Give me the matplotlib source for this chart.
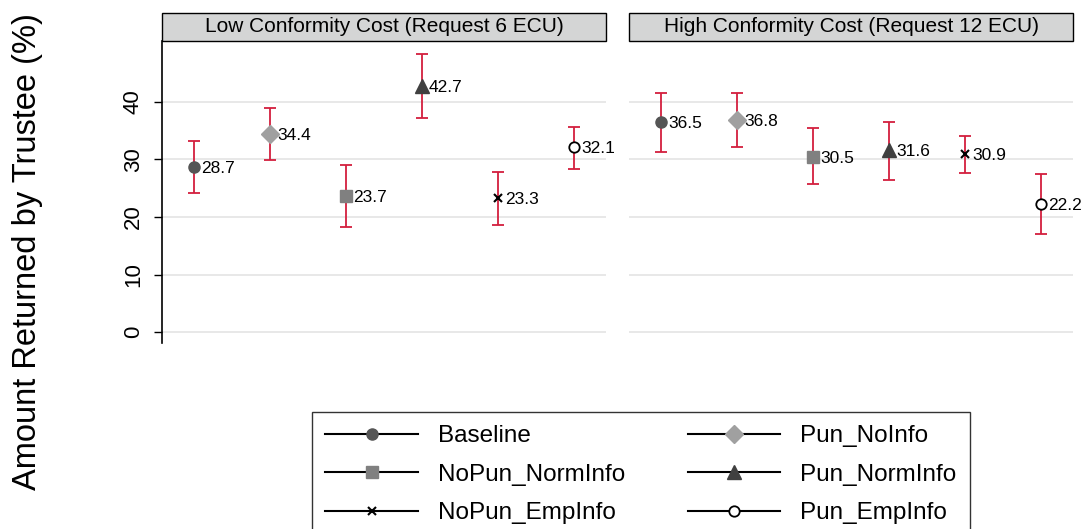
import matplotlib
matplotlib.use("Agg")
import matplotlib.pyplot as plt
from matplotlib.lines import Line2D
from matplotlib.patches import Rectangle

plt.rcParams["font.family"] = ["Liberation Sans", "DejaVu Sans"]

# data
panels = ["Low Conformity Cost (Request 6 ECU)", "High Conformity Cost (Request 12 ECU)"]
treatments = ["Baseline", "Pun_NoInfo", "NoPun_NormInfo", "Pun_NormInfo", "NoPun_EmpInfo", "Pun_EmpInfo"]
means_low = [28.7, 34.4, 23.7, 42.7, 23.3, 32.1]
lower_low = [24.1, 29.9, 18.3, 37.2, 18.6, 28.3]
upper_low = [33.2, 39.0, 29.0, 48.3, 27.9, 35.7]
means_high = [36.5, 36.8, 30.5, 31.6, 30.9, 22.2]
lower_high = [31.3, 32.1, 25.7, 26.5, 27.7, 17.0]
upper_high = [41.6, 41.5, 35.4, 36.6, 34.1, 27.4]
yticks = [0, 10, 20, 30, 40]

# marker styles per treatment
styles = {
    "Baseline": dict(marker="o", ms=8, mfc="#555555", mec="#555555"),
    "Pun_NoInfo": dict(marker="D", ms=9, mfc="#a0a0a0", mec="#a0a0a0"),
    "NoPun_NormInfo": dict(marker="s", ms=8.5, mfc="#808080", mec="#808080"),
    "Pun_NormInfo": dict(marker="^", ms=10, mfc="#404040", mec="#404040"),
    "NoPun_EmpInfo": dict(marker="x", ms=6, mfc="black", mec="black", mew=1.5),
    "Pun_EmpInfo": dict(marker="o", ms=7.5, mfc="white", mec="black", mew=1.3),
}
err_color = "#d31f3e"

fig = plt.figure(figsize=(10.83, 5.29), dpi=100)
W, H = 1083, 529
ax_bottom = 1 - 343 / H
ax_h = (343 - 41) / H
axes = [
    fig.add_axes([162 / W, ax_bottom, 444 / W, ax_h]),
    fig.add_axes([629 / W, ax_bottom, 444 / W, ax_h]),
]

data = [(means_low, lower_low, upper_low), (means_high, lower_high, upper_high)]
xs = list(range(1, len(treatments) + 1))

for ax, title, (m, lo, hi) in zip(axes, panels, data):
    ax.set_xlim(1 - 32 / 76, 6 + 32 / 76)
    ax.set_ylim(-1.9, 50.6)
    for y in yticks:
        ax.axhline(y, color="#e6e6e6", lw=1.3, zorder=0)
    for x, t, v, l, h in zip(xs, treatments, m, lo, hi):
        ax.errorbar(x, v, yerr=[[v - l], [h - v]], fmt="none", ecolor=err_color,
                    elinewidth=1.3, capsize=4, capthick=1.3, zorder=2)
        ax.plot(x, v, linestyle="none", zorder=3, **styles[t])
        ax.annotate(f"{v:.1f}", (x, v), xytext=(5, -1), textcoords="offset points",
                    ha="left", va="center", fontsize=12.5, zorder=4)
    for s in ["top", "right", "bottom"]:
        ax.spines[s].set_visible(False)
    ax.set_xticks([])
    # strip header
    strip_h = 28 / 302
    ax.add_patch(Rectangle((0, 1), 1, strip_h, transform=ax.transAxes,
                           facecolor="#d4d5d5", edgecolor="black", lw=1.0, clip_on=False))
    ax.text(0.5, 1 + strip_h / 2, title, transform=ax.transAxes, ha="center",
            va="center", fontsize=15)

axes[0].set_yticks(yticks)
axes[0].set_yticklabels([str(y) for y in yticks], rotation=90, va="center", fontsize=16)
axes[0].tick_params(axis="y", length=6, width=1, pad=7)
axes[0].spines["left"].set_linewidth(1.2)
axes[1].spines["left"].set_visible(False)
axes[1].set_yticks([])

fig.text(28 / W, 1 - 252 / H, "Amount Returned by Trustee (%)", rotation=90,
         ha="center", va="center", fontsize=23.5)

# legend, column-major order
order = ["Baseline", "NoPun_NormInfo", "NoPun_EmpInfo", "Pun_NoInfo", "Pun_NormInfo", "Pun_EmpInfo"]
handles = [Line2D([], [], color="black", lw=1.5, **styles[t]) for t in order]
leg = fig.legend(handles, order, ncol=2, loc="upper left",
                 bbox_to_anchor=(312 / W, 1 - 412 / H), borderaxespad=0, fontsize=17.5,
                 handlelength=3.8, handletextpad=0.82, columnspacing=2.6,
                 labelspacing=0.68, borderpad=0.55, fancybox=False, frameon=True)
leg.get_frame().set_edgecolor("black")
leg.get_frame().set_linewidth(1.0)

fig.savefig("out.png", dpi=100)
